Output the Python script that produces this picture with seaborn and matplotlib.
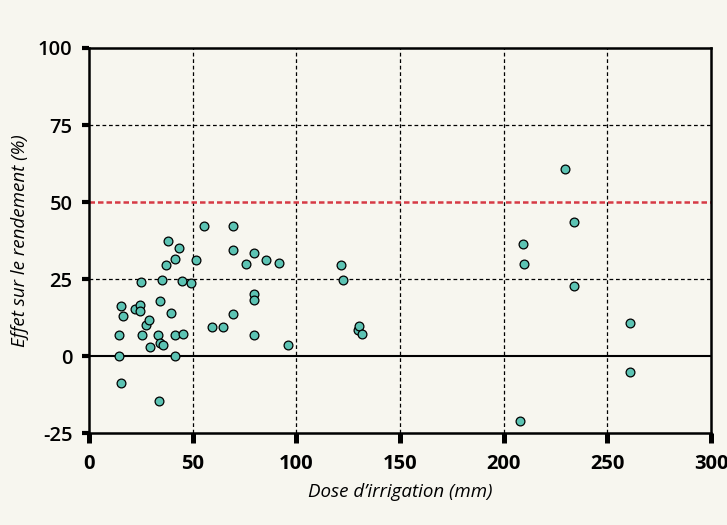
import pandas as pd
import matplotlib
matplotlib.use("Agg")
import matplotlib.pyplot as plt
import seaborn as sns

# Données : dose d'irrigation (mm) et effet sur le rendement (%)
dose = [14.3, 14.5, 15.4, 16.2, 15.4, 22.3, 24.6, 24.8, 25.1, 25.6,
        27.3, 28.8, 29.6, 33.3, 33.6, 34.3, 35.7, 34.4, 35.4, 37.1,
        38.2, 39.7, 41.3, 41.6, 41.6, 43.2, 45.0, 45.5, 49.2, 51.5,
        55.3, 59.5, 64.8, 69.5, 69.5, 69.5, 75.6, 79.8, 79.8, 79.8,
        79.8, 85.5, 91.7, 95.8, 121.7, 122.5, 129.6, 130.1, 131.5, 207.9,
        209.5, 209.8, 229.6, 233.8, 234.0, 261.0, 261.1]
effet = [0.0, 6.8, 16.4, 13.0, -8.6, 15.3, 16.6, 14.6, 24.0, 7.0,
         10.2, 11.8, 2.9, 6.9, -14.4, 4.4, 3.6, 18.1, 24.7, 29.7,
         37.3, 14.0, 31.7, 6.8, 0.0, 35.3, 24.3, 7.4, 23.9, 31.1,
         42.2, 9.4, 9.4, 42.2, 34.4, 13.8, 29.9, 33.6, 20.2, 18.2,
         6.8, 31.3, 30.4, 3.6, 29.7, 24.9, 8.4, 9.8, 7.1, -20.9,
         36.4, 30.0, 60.8, 43.5, 22.8, 10.8, -5.1]

x_ticks = [0, 50, 100, 150, 200, 250, 300]
y_ticks = [-25, 0, 25, 50, 75, 100]

df = pd.DataFrame({"dose": dose, "effet": effet})

sns.set_theme(style="ticks")
plt.rcParams["font.family"] = ["Open Sans", "DejaVu Sans"]
plt.rcParams["axes.unicode_minus"] = False

bg = "#f7f6ef"
fig, ax = plt.subplots(figsize=(7.27, 5.25), dpi=100)
fig.patch.set_facecolor(bg)
ax.set_facecolor(bg)
fig.subplots_adjust(left=0.1224, right=0.978, bottom=0.1743, top=0.9086)

# grille verticale
for xv in x_ticks[1:-1]:
    ax.axvline(xv, color="black", lw=0.9, ls=(0, (3, 2.2)), zorder=1)
# lignes horizontales
for yv in [25, 75]:
    ax.axhline(yv, color="black", lw=0.9, ls=(0, (3, 2.2)), zorder=1)
ax.axhline(0, color="black", lw=1.5, zorder=1)
ax.axhline(50, color="#d63a45", lw=1.8, ls=(0, (2.2, 1.2)), zorder=1)

sns.scatterplot(data=df, x="dose", y="effet", ax=ax, s=40,
                color="#5cc3b3", edgecolor="black", linewidth=0.9, zorder=3)

ax.set_xlim(0, 300)
ax.set_ylim(-25, 100)
ax.set_xticks(x_ticks)
ax.set_yticks(y_ticks)
for sp in ax.spines.values():
    sp.set_visible(True)
    sp.set_color("black")
    sp.set_linewidth(1.8)

ax.tick_params(axis="x", direction="out", length=7, width=3.6, color="black",
               labelsize=14.5, labelcolor="black", pad=8)
ax.tick_params(axis="y", direction="out", length=5, width=3, color="black",
               labelsize=14.5, labelcolor="black", pad=7)
for lab in ax.get_xticklabels():
    lab.set_fontweight("bold")
for lab in ax.get_yticklabels():
    lab.set_fontweight("semibold")

ax.set_xlabel("Dose d\u2019irrigation (mm)", fontsize=13.5, style="italic",
              color="black", labelpad=6)
ax.set_ylabel("Effet sur le rendement (%)", fontsize=13.5, style="italic",
              color="black", labelpad=6)

plt.savefig("out.png", dpi=100, facecolor=bg)
